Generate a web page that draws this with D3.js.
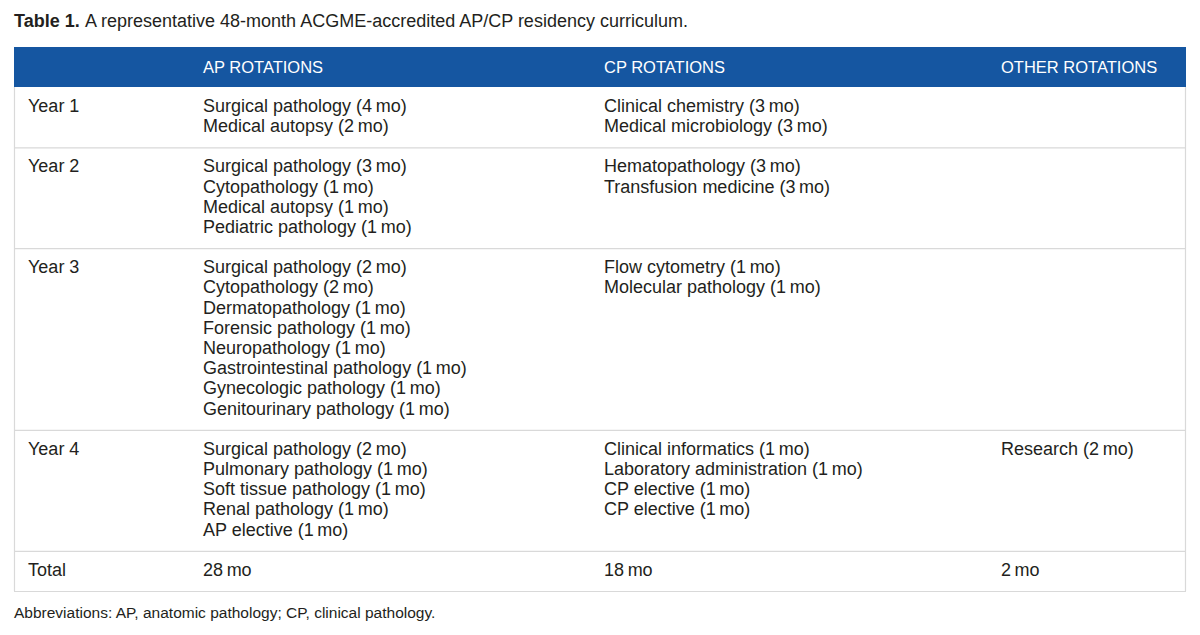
<!DOCTYPE html>
<html>
<head>
<meta charset="utf-8">
<script src="https://cdn.jsdelivr.net/npm/d3@7"></script>
<style>
  body { margin: 0; background: #fff; }
  svg { display: block; }
</style>
</head>
<body>
<svg id="chart"></svg>
<script>
const T = "\u2009"; // thin space before "mo"

const columns = ["", "AP ROTATIONS", "CP ROTATIONS", "OTHER ROTATIONS"];
const years = ["Year 1", "Year 2", "Year 3", "Year 4", "Total"];
const apRotations = [
  [`Surgical pathology (4${T}mo)`, `Medical autopsy (2${T}mo)`],
  [`Surgical pathology (3${T}mo)`, `Cytopathology (1${T}mo)`, `Medical autopsy (1${T}mo)`, `Pediatric pathology (1${T}mo)`],
  [`Surgical pathology (2${T}mo)`, `Cytopathology (2${T}mo)`, `Dermatopathology (1${T}mo)`, `Forensic pathology (1${T}mo)`,
   `Neuropathology (1${T}mo)`, `Gastrointestinal pathology (1${T}mo)`, `Gynecologic pathology (1${T}mo)`, `Genitourinary pathology (1${T}mo)`],
  [`Surgical pathology (2${T}mo)`, `Pulmonary pathology (1${T}mo)`, `Soft tissue pathology (1${T}mo)`, `Renal pathology (1${T}mo)`, `AP elective (1${T}mo)`],
  [`28${T}mo`]
];
const cpRotations = [
  [`Clinical chemistry (3${T}mo)`, `Medical microbiology (3${T}mo)`],
  [`Hematopathology (3${T}mo)`, `Transfusion medicine (3${T}mo)`],
  [`Flow cytometry (1${T}mo)`, `Molecular pathology (1${T}mo)`],
  [`Clinical informatics (1${T}mo)`, `Laboratory administration (1${T}mo)`, `CP elective (1${T}mo)`, `CP elective (1${T}mo)`],
  [`18${T}mo`]
];
const otherRotations = [
  [], [], [],
  [`Research (2${T}mo)`],
  [`2${T}mo`]
];

const titleBold = "Table 1.";
const titleText = "A representative 48-month ACGME-accredited AP/CP residency curriculum.";
const footnote = "Abbreviations: AP, anatomic pathology; CP, clinical pathology.";

const width = 1200, height = 635;
const tableLeft = 14, tableRight = 1186;
const headTop = 47, headH = 40;
const lineH = 20.2, rowPad = 20;
const font = "'Liberation Sans', Arial, Helvetica, sans-serif";
const fs = 18;
const textColor = "#231f20";
const blue = "#1556a1";
const rule = "#d9d9d9";

const colX = d3.scaleOrdinal().domain(columns).range([28, 203, 604, 1001]);

const rows = years.map((y, i) => ({
  year: y,
  cells: [[y], apRotations[i], cpRotations[i], otherRotations[i]]
}));
rows.forEach(r => r.lines = d3.max(r.cells, c => c.length));

// vertical position: cumulative lines -> pixels
let acc = 0;
rows.forEach((r, i) => { r.start = acc; r.idx = i; acc += r.lines; });
const y = d3.scaleLinear().domain([0, 1]).range([headTop + headH, headTop + headH + lineH]);
const rowTop = r => y(r.start) + r.idx * rowPad;
const rowH = r => r.lines * lineH + rowPad;

const svg = d3.select("#chart").attr("width", width).attr("height", height)
  .attr("font-family", font).attr("font-size", fs);

// title
const title = svg.append("text").attr("y", 27).attr("fill", textColor);
title.append("tspan").attr("x", 14).attr("font-weight", "bold").text(titleBold);
title.append("tspan").attr("x", 85).text(titleText);

// header band
svg.append("rect")
  .attr("x", tableLeft).attr("y", headTop)
  .attr("width", tableRight - tableLeft).attr("height", headH)
  .attr("fill", blue);
svg.append("g").selectAll("text").data(columns).join("text")
  .attr("x", d => colX(d)).attr("y", headTop + 26)
  .attr("font-size", 16.5)
  .attr("fill", "#fff").text(d => d);

// rows
const last = rows[rows.length - 1];
const bottom = rowTop(last) + rowH(last);

const rowG = svg.append("g").selectAll("g").data(rows).join("g")
  .attr("transform", d => `translate(0,${rowTop(d)})`);

rowG.append("line")
  .attr("x1", tableLeft).attr("x2", tableRight)
  .attr("y1", d => rowH(d) + 0.5).attr("y2", d => rowH(d) + 0.5)
  .attr("stroke", rule).attr("stroke-width", 1.2);

rowG.each(function(r) {
  const g = d3.select(this);
  r.cells.forEach((cell, ci) => {
    g.selectAll(`text.c${ci}`).data(cell).join("text")
      .attr("class", `c${ci}`)
      .attr("x", colX(columns[ci]))
      .attr("y", (d, li) => 25 + li * lineH)
      .attr("fill", textColor)
      .text(d => d);
  });
});

// side borders
[tableLeft + 0.5, tableRight - 0.5].forEach(x => {
  svg.append("line")
    .attr("x1", x).attr("x2", x)
    .attr("y1", headTop + headH).attr("y2", bottom)
    .attr("stroke", rule).attr("stroke-width", 1.2);
});

// footnote
svg.append("text").attr("x", 14).attr("y", bottom + 27)
  .attr("font-size", 15.5).attr("fill", textColor).text(footnote);
</script>
</body>
</html>
